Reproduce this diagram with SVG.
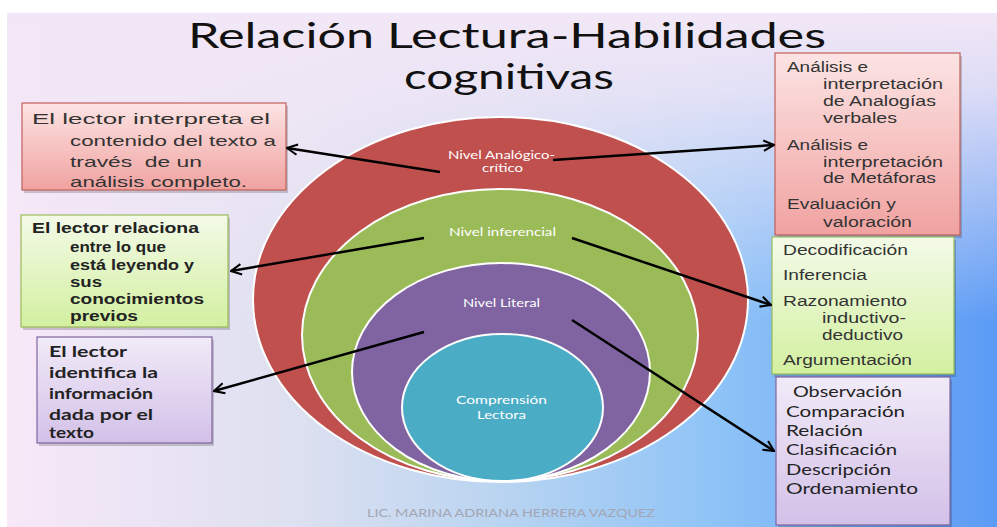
<svg xmlns="http://www.w3.org/2000/svg" width="997" height="527" viewBox="0 0 997 527">
<style>
.box1{font-family:"Liberation Sans",Arial,sans-serif;font-size:15px;fill:#333333}
.box2{font-family:"Liberation Sans",Arial,sans-serif;font-size:14px;font-weight:bold;fill:#222222}
.box3{font-family:Lato,"Liberation Sans",sans-serif;font-size:15px;font-weight:bold;fill:#222222}
.rbox{font-family:"Liberation Sans",Arial,sans-serif;font-size:14px;fill:#333333}
.rbox3{font-family:Lato,"Liberation Sans",sans-serif;font-size:15px;fill:#222222}
.lvl{font-family:Lato,"Liberation Sans",sans-serif;font-size:11.5px;fill:#ffffff}
.title{font-family:Lato,"Open Sans","Liberation Sans",sans-serif;font-size:35px;fill:#111111}
.foot{font-family:Lato,"Liberation Sans",sans-serif;font-size:11px;fill:#a3a6b4}
.ring{stroke:#ffffff;stroke-width:2}
.conn{stroke:#000000;stroke-width:2.5;fill:none;marker-end:url(#arr)}
.shadow{fill:#000000;opacity:0.18}
</style>
<defs>
<linearGradient id="bgH" x1="0" y1="0" x2="1" y2="0">
<stop offset="0" stop-color="#f8e8f8"/>
<stop offset="0.3" stop-color="#dce0f0"/>
<stop offset="0.5" stop-color="#b9d4f1"/>
<stop offset="0.72" stop-color="#8ec3f7"/>
<stop offset="1" stop-color="#5c9bf5"/>
</linearGradient>
<linearGradient id="bgV" x1="0" y1="0" x2="0" y2="1">
<stop offset="0" stop-color="#f2e7f6" stop-opacity="1"/>
<stop offset="0.15" stop-color="#f2e7f6" stop-opacity="0.85"/>
<stop offset="0.6" stop-color="#f2e7f6" stop-opacity="0"/>
</linearGradient>
<linearGradient id="gRed" x1="0" y1="0" x2="0" y2="1">
<stop offset="0" stop-color="#fce4e4"/>
<stop offset="1" stop-color="#f0a2a0"/>
</linearGradient>
<linearGradient id="gGreen" x1="0" y1="0" x2="0" y2="1">
<stop offset="0" stop-color="#f3fae8"/>
<stop offset="1" stop-color="#d3f0a0"/>
</linearGradient>
<linearGradient id="gPurple" x1="0" y1="0" x2="0" y2="1">
<stop offset="0" stop-color="#f1ebf8"/>
<stop offset="1" stop-color="#d3c0e8"/>
</linearGradient>
<marker id="arr" viewBox="0 0 12 12" refX="11" refY="6" markerWidth="5" markerHeight="5" orient="auto" markerUnits="strokeWidth">
<path d="M1,1 L11,6 L1,11" fill="none" stroke="#000000" stroke-width="2"/>
</marker>
</defs>

<rect x="0" y="0" width="997" height="527" fill="#ffffff"/>
<rect x="7" y="13" width="990" height="514" fill="url(#bgH)"/>
<rect x="7" y="13" width="990" height="514" fill="url(#bgV)"/>

<g id="title">
<text class="title" x="188" y="48" textLength="638" lengthAdjust="spacingAndGlyphs">Relación Lectura-Habilidades</text>
<text class="title" x="404" y="89" textLength="210" lengthAdjust="spacingAndGlyphs">cognitivas</text>
</g>

<g id="nivel-analogico">
<ellipse class="ring" cx="500.5" cy="299.5" rx="247.5" ry="182.5" fill="#c0504d"/>
<text class="lvl" x="448" y="159" textLength="107" lengthAdjust="spacingAndGlyphs">Nivel Analógico-</text>
<text class="lvl" x="482" y="172" textLength="41" lengthAdjust="spacingAndGlyphs">crítico</text>
</g>
<g id="nivel-inferencial">
<ellipse class="ring" cx="500" cy="335" rx="198" ry="146" fill="#9bbb59"/>
<text class="lvl" x="449" y="236" textLength="107" lengthAdjust="spacingAndGlyphs">Nivel inferencial</text>
</g>
<g id="nivel-literal">
<ellipse class="ring" cx="501" cy="372" rx="149" ry="109" fill="#8064a2"/>
<text class="lvl" x="463" y="307" textLength="77" lengthAdjust="spacingAndGlyphs">Nivel Literal</text>
</g>
<g id="comprension">
<ellipse class="ring" cx="502.5" cy="407.5" rx="100.5" ry="73.5" fill="#4bacc6"/>
<text class="lvl" x="456" y="404" textLength="91" lengthAdjust="spacingAndGlyphs">Comprensión</text>
<text class="lvl" x="477" y="419" textLength="49" lengthAdjust="spacingAndGlyphs">Lectora</text>
</g>

<g id="box-analogico-izq">
<rect class="shadow" x="24" y="106" width="264" height="87"/>
<rect x="22" y="103" width="264" height="87" fill="url(#gRed)" stroke="#c0605c" stroke-width="1.2"/>
<text class="box1" x="32" y="124" textLength="238" lengthAdjust="spacingAndGlyphs">El lector interpreta el</text>
<text class="box1" x="70" y="146" textLength="206" lengthAdjust="spacingAndGlyphs">contenido del texto a</text>
<text class="box1" x="70" y="167" textLength="132" lengthAdjust="spacingAndGlyphs" xml:space="preserve">través  de un</text>
<text class="box1" x="70" y="187" textLength="177" lengthAdjust="spacingAndGlyphs">análisis completo.</text>
</g>

<g id="box-inferencial-izq">
<rect class="shadow" x="23" y="218" width="207" height="112"/>
<rect x="21" y="215" width="207" height="112" fill="url(#gGreen)" stroke="#9bbb59" stroke-width="1.2"/>
<text class="box2" x="32" y="233" textLength="167" lengthAdjust="spacingAndGlyphs">El lector relaciona</text>
<text class="box2" x="70" y="252" textLength="96" lengthAdjust="spacingAndGlyphs">entre lo que</text>
<text class="box2" x="70" y="270" textLength="124" lengthAdjust="spacingAndGlyphs">está leyendo y</text>
<text class="box2" x="70" y="287" textLength="32" lengthAdjust="spacingAndGlyphs">sus</text>
<text class="box2" x="70" y="304" textLength="134" lengthAdjust="spacingAndGlyphs">conocimientos</text>
<text class="box2" x="70" y="321" textLength="68" lengthAdjust="spacingAndGlyphs">previos</text>
</g>

<g id="box-literal-izq">
<rect class="shadow" x="39" y="340" width="175" height="106"/>
<rect x="37" y="337" width="175" height="106" fill="url(#gPurple)" stroke="#8064a2" stroke-width="1.2"/>
<text class="box3" x="49" y="357" textLength="78" lengthAdjust="spacingAndGlyphs">El lector</text>
<text class="box3" x="49" y="378" textLength="109" lengthAdjust="spacingAndGlyphs">identifica la</text>
<text class="box3" x="49" y="399" textLength="104" lengthAdjust="spacingAndGlyphs">información</text>
<text class="box3" x="49" y="420" textLength="104" lengthAdjust="spacingAndGlyphs">dada por el</text>
<text class="box3" x="49" y="438" textLength="45" lengthAdjust="spacingAndGlyphs">texto</text>
</g>

<g id="box-analogico-der">
<rect class="shadow" x="777" y="56" width="185" height="182"/>
<rect x="775" y="53" width="185" height="182" fill="url(#gRed)" stroke="#c0605c" stroke-width="1.2"/>
<text class="rbox" x="787" y="72" textLength="81" lengthAdjust="spacingAndGlyphs">Análisis e</text>
<text class="rbox" x="823" y="89" textLength="120" lengthAdjust="spacingAndGlyphs">interpretación</text>
<text class="rbox" x="823" y="106" textLength="113" lengthAdjust="spacingAndGlyphs">de Analogías</text>
<text class="rbox" x="823" y="123" textLength="74" lengthAdjust="spacingAndGlyphs">verbales</text>
<text class="rbox" x="787" y="150" textLength="81" lengthAdjust="spacingAndGlyphs">Análisis e</text>
<text class="rbox" x="823" y="167" textLength="120" lengthAdjust="spacingAndGlyphs">interpretación</text>
<text class="rbox" x="823" y="183" textLength="113" lengthAdjust="spacingAndGlyphs">de Metáforas</text>
<text class="rbox" x="787" y="209" textLength="109" lengthAdjust="spacingAndGlyphs">Evaluación y</text>
<text class="rbox" x="823" y="227" textLength="89" lengthAdjust="spacingAndGlyphs">valoración</text>
</g>

<g id="box-inferencial-der">
<rect class="shadow" x="774" y="240" width="182" height="137"/>
<rect x="772" y="237" width="182" height="137" fill="url(#gGreen)" stroke="#9bbb59" stroke-width="1.2"/>
<text class="rbox" x="783" y="255" textLength="125" lengthAdjust="spacingAndGlyphs">Decodificación</text>
<text class="rbox" x="783" y="280" textLength="84" lengthAdjust="spacingAndGlyphs">Inferencia</text>
<text class="rbox" x="783" y="306" textLength="124" lengthAdjust="spacingAndGlyphs">Razonamiento</text>
<text class="rbox" x="822" y="323" textLength="84" lengthAdjust="spacingAndGlyphs">inductivo-</text>
<text class="rbox" x="822" y="340" textLength="81" lengthAdjust="spacingAndGlyphs">deductivo</text>
<text class="rbox" x="783" y="365" textLength="129" lengthAdjust="spacingAndGlyphs">Argumentación</text>
</g>

<g id="box-literal-der">
<rect class="shadow" x="778" y="380" width="174" height="148"/>
<rect x="776" y="377" width="174" height="148" fill="url(#gPurple)" stroke="#8064a2" stroke-width="1.2"/>
<text class="rbox3" x="793" y="397" textLength="109" lengthAdjust="spacingAndGlyphs">Observación</text>
<text class="rbox3" x="786" y="417" textLength="119" lengthAdjust="spacingAndGlyphs">Comparación</text>
<text class="rbox3" x="786" y="436" textLength="77" lengthAdjust="spacingAndGlyphs">Relación</text>
<text class="rbox3" x="786" y="455" textLength="111" lengthAdjust="spacingAndGlyphs">Clasificación</text>
<text class="rbox3" x="786" y="475" textLength="105" lengthAdjust="spacingAndGlyphs">Descripción</text>
<text class="rbox3" x="786" y="494" textLength="132" lengthAdjust="spacingAndGlyphs">Ordenamiento</text>
</g>

<g id="connectors">
<line class="conn" x1="440" y1="172" x2="287" y2="148"/>
<line class="conn" x1="553" y1="160" x2="774" y2="145"/>
<line class="conn" x1="424" y1="238" x2="231" y2="271"/>
<line class="conn" x1="572" y1="238" x2="771" y2="305"/>
<line class="conn" x1="424" y1="332" x2="214" y2="391"/>
<line class="conn" x1="572" y1="320" x2="774" y2="451"/>
</g>

<text class="foot" x="367" y="517" textLength="288" lengthAdjust="spacingAndGlyphs">LIC. MARINA ADRIANA HERRERA VAZQUEZ</text>
</svg>
